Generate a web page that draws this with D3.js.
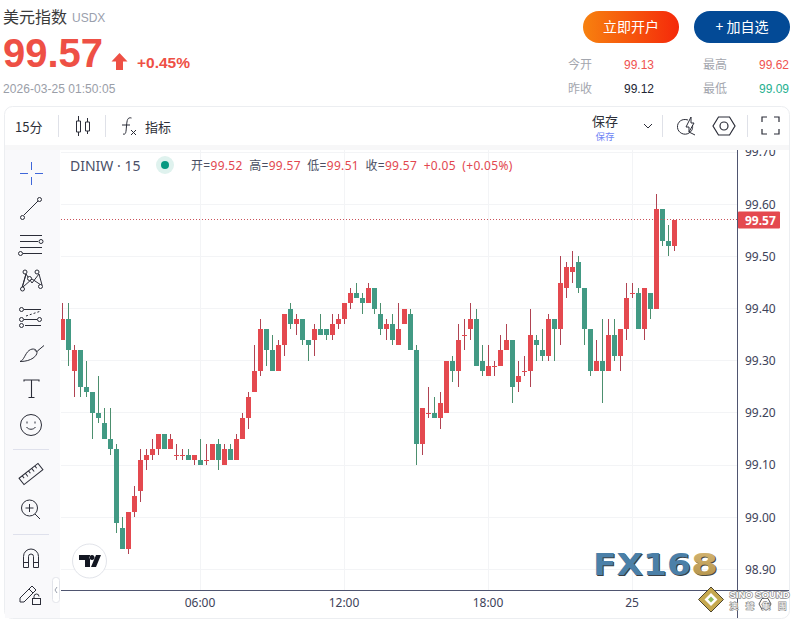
<!DOCTYPE html>
<html>
<head>
<meta charset="utf-8">
<script src="https://cdn.jsdelivr.net/npm/d3@7"></script>
<style>
html, body { margin: 0; padding: 0; background: #fff; }
svg { display: block; }
text { font-family: "Liberation Sans", "Noto Sans CJK SC", sans-serif; }
.cjk { font-family: "Noto Sans CJK SC", sans-serif; }
.axis text { font-family: "Noto Sans", sans-serif; font-size: 12px; fill: #3d4259; }
</style>
</head>
<body>
<div id="chart"></div>
<script>
// 15 minute candles
var opens = [99.34,99.38,99.28,99.32,99.25,99.24,99.20,99.18,99.15,99.13,98.98,98.94,99.01,99.05,99.11,99.12,99.13,99.16,99.13,99.12,99.12,99.12,99.11,99.11,99.11,99.11,99.14,99.10,99.13,99.11,99.15,99.19,99.24,99.28,99.36,99.32,99.28,99.33,99.40,99.37,99.38,99.34,99.34,99.36,99.36,99.35,99.37,99.38,99.41,99.43,99.42,99.41,99.44,99.39,99.36,99.37,99.33,99.37,99.39,99.32,99.14,99.20,99.20,99.19,99.20,99.30,99.28,99.35,99.36,99.38,99.30,99.27,99.29,99.29,99.32,99.34,99.26,99.28,99.28,99.34,99.32,99.31,99.38,99.36,99.44,99.47,99.49,99.44,99.36,99.28,99.30,99.28,99.35,99.31,99.36,99.43,99.43,99.36,99.43,99.40,99.59,99.53,99.52];
var closes = [99.38,99.32,99.32,99.25,99.24,99.20,99.19,99.15,99.13,98.99,98.94,99.01,99.04,99.11,99.12,99.13,99.16,99.13,99.15,99.12,99.12,99.11,99.12,99.10,99.11,99.14,99.11,99.13,99.11,99.15,99.19,99.23,99.28,99.36,99.32,99.28,99.33,99.39,99.37,99.38,99.34,99.33,99.36,99.35,99.35,99.37,99.38,99.41,99.43,99.42,99.41,99.44,99.40,99.36,99.37,99.34,99.36,99.40,99.32,99.14,99.21,99.20,99.19,99.22,99.30,99.28,99.34,99.35,99.38,99.29,99.28,99.29,99.29,99.32,99.34,99.25,99.27,99.28,99.35,99.33,99.31,99.38,99.36,99.45,99.48,99.48,99.44,99.36,99.28,99.30,99.28,99.35,99.31,99.36,99.42,99.43,99.36,99.44,99.40,99.59,99.53,99.52,99.57];
var highs = [99.41,99.41,99.33,99.32,99.30,99.24,99.27,99.21,99.21,99.14,99.00,99.01,99.06,99.13,99.13,99.15,99.16,99.16,99.16,99.14,99.13,99.13,99.12,99.15,99.14,99.14,99.15,99.14,99.14,99.16,99.20,99.24,99.33,99.38,99.36,99.35,99.34,99.39,99.41,99.39,99.38,99.34,99.37,99.39,99.36,99.39,99.39,99.41,99.44,99.45,99.43,99.45,99.44,99.41,99.38,99.39,99.41,99.40,99.40,99.33,99.21,99.25,99.23,99.24,99.30,99.31,99.37,99.38,99.41,99.40,99.33,99.33,99.30,99.35,99.37,99.34,99.30,99.31,99.40,99.35,99.36,99.39,99.38,99.50,99.49,99.51,99.50,99.44,99.36,99.34,99.38,99.38,99.38,99.36,99.45,99.45,99.44,99.44,99.43,99.62,99.59,99.56,99.57];
var lows = [99.34,99.29,99.23,99.23,99.23,99.15,99.18,99.15,99.12,98.97,98.94,98.93,99.00,99.03,99.09,99.11,99.12,99.13,99.13,99.11,99.11,99.11,99.10,99.10,99.10,99.11,99.09,99.10,99.11,99.11,99.15,99.17,99.24,99.27,99.29,99.28,99.28,99.31,99.36,99.35,99.33,99.30,99.31,99.35,99.34,99.34,99.36,99.37,99.40,99.42,99.39,99.41,99.39,99.35,99.34,99.33,99.33,99.37,99.32,99.10,99.12,99.19,99.19,99.17,99.20,99.26,99.25,99.32,99.34,99.29,99.27,99.27,99.27,99.29,99.32,99.22,99.24,99.27,99.25,99.30,99.30,99.30,99.30,99.33,99.42,99.45,99.43,99.33,99.27,99.28,99.22,99.28,99.30,99.28,99.34,99.42,99.36,99.34,99.38,99.40,99.52,99.50,99.51];

var priceTicks = [98.9,99.0,99.1,99.2,99.3,99.4,99.5,99.6,99.7];
var timeIndex = [23,47,71,95];
var timeLabels = ["06:00","12:00","18:00","25"];
var lastPrice = 99.57;

var legendTexts = ["开=","99.52","高=","99.57","低=","99.51","收=","99.57","+0.05","(+0.05%)"];
var statLabels = ["今开","昨收","最高","最低"];
var statValues = ["99.13","99.12","99.62","99.09"];
var statColors = ["#ef5350","#222533","#ef5350","#26b08f"];

var upColor = "#e4494f", downColor = "#429a84";
var upWick = "#b04352", downWick = "#4c8f6e";

var width = 797, height = 621;
var svg = d3.select("#chart").append("svg").attr("width", width).attr("height", height);

var defs = svg.append("defs");
var btnGrad = defs.append("linearGradient").attr("id", "btnGrad");
btnGrad.append("stop").attr("offset", "0%").attr("stop-color", "#f7810f");
btnGrad.append("stop").attr("offset", "100%").attr("stop-color", "#f5290a");
var goldGrad = defs.append("linearGradient").attr("id", "goldGrad").attr("x1", 0).attr("x2", 0).attr("y1", 0).attr("y2", 1);
goldGrad.append("stop").attr("offset", "0%").attr("stop-color", "#d8b978");
goldGrad.append("stop").attr("offset", "100%").attr("stop-color", "#b08f45");
defs.append("clipPath").attr("id", "plotClip").append("rect").attr("x", 61).attr("y", 150).attr("width", 676).attr("height", 440);

// page header
function label(x, y, str, size, color, opts) {
    opts = opts || {};
    return svg.append("text").attr("x", x).attr("y", y).text(str)
        .attr("font-size", size).attr("fill", color)
        .attr("font-weight", opts.weight || null)
        .attr("text-anchor", opts.anchor || null)
        .attr("class", opts.cjk ? "cjk" : null);
}
label(3, 23, "美元指数", 16, "#3a3a3a", {cjk: true});
label(72, 22, "USDX", 12, "#9aa0ad");
label(3, 67, "99.57", 40, "#ee5045", {weight: "bold"});
svg.append("path").attr("d", "M119.5 53 L127.5 61.5 L123 61.5 L123 70 L116 70 L116 61.5 L111.5 61.5 Z").attr("fill", "#ee5045");
label(137, 68, "+0.45%", 15.5, "#ee5045", {weight: "bold"});
label(3, 93, "2026-03-25 01:50:05", 12, "#9a9ea8").style("letter-spacing", "0.05px");

svg.append("rect").attr("x", 583).attr("y", 11).attr("width", 96).attr("height", 32).attr("rx", 16).attr("fill", "url(#btnGrad)");
svg.append("rect").attr("x", 694).attr("y", 11).attr("width", 96).attr("height", 32).attr("rx", 16).attr("fill", "#034a96");
label(631, 32, "立即开户", 14, "#fff", {anchor: "middle", cjk: true});
label(742, 32, "+ 加自选", 14, "#fff", {anchor: "middle", cjk: true});

[[568,623],[568,623],[703,758],[703,758]].forEach(function(p, i) {
    var yy = i % 2 == 0 ? 69 : 93;
    label(p[0], yy, statLabels[i], 12, "#a3a6ae", {cjk: true});
    label(p[1] + 1, yy, statValues[i], 12, statColors[i]);
});

// outer frame and toolbars
svg.append("rect").attr("x", 4.5).attr("y", 106.5).attr("width", 785).attr("height", 512).attr("rx", 8).attr("fill", "#fff").attr("stroke", "#eceef1");
svg.append("rect").attr("x", 5).attr("y", 150).attr("width", 55).attr("height", 468).attr("fill", "#f9f9fb");

label(15, 132, "15分", 13, "#2d2f38", {cjk: true});
label(145, 132, "指标", 13, "#2d2f38", {cjk: true});
label(605, 125.5, "保存", 13, "#2d2f38", {anchor: "middle", cjk: true});
label(605, 140, "保存", 9.5, "#6f86f5", {anchor: "middle", cjk: true});

var iconStroke = "#2b2d38";
function icon(d, color, w) {
    return svg.append("path").attr("d", d).attr("fill", "none").attr("stroke", color || iconStroke).attr("stroke-width", w || 1);
}
// toolbar separators
[[58.5,115,137],[105.5,115,137],[662.5,115,137],[747.5,115,137]].forEach(function(s) {
    svg.append("line").attr("x1", s[0]).attr("x2", s[0]).attr("y1", s[1]).attr("y2", s[2]).attr("stroke", "#dfe1e8");
});
icon("M76.500 121v11h4v-11zM78.500 116v5M78.500 132v4M85.500 122v9h4v-9zM87.500 118v4M87.500 131v3");
icon("M123 134c3 1 3-2 3.500-8s1-9 5-8M122 125h8M131 130l5 5M136 130l-5 5");
icon("M644 124l4 4 4-4");
icon("M688 120c-6-2-11 2-10.500 7.500s7 8.500 11.500 5.500 3.500-6 3.500-8M689 132l6 3M686 127l5-10 0 6 3 0-5 9 0-5z");
icon("M713 126l5.500-9h11l5.500 9-5.500 9h-11z", null, 1.2);
svg.append("circle").attr("cx", 724).attr("cy", 126).attr("r", 4).attr("fill", "none").attr("stroke", iconStroke).attr("stroke-width", 1.2);
icon("M762 122v-5h5M774 117h5v5M779 129v5h-5M767 134h-5v-5", null, 1.2);

// y = price, x = candle number
var y = d3.scaleLinear().domain([98.9, 99.7]).range([569.5, 152.1]);
var x = d3.scaleLinear().domain([0, 102]).range([62.5, 674.5]);
var py = function(p) { return Math.round(y(p)); };

var plot = svg.append("g");
var grid = plot.append("g").attr("stroke", "#f3f4f6").attr("shape-rendering", "crispEdges");
grid.selectAll(".h").data(priceTicks).enter().append("line").attr("class", "h")
    .attr("x1", 61).attr("x2", 737).attr("y1", function(d) { return Math.floor(y(d)) + 0.5; }).attr("y2", function(d) { return Math.floor(y(d)) + 0.5; });
grid.selectAll(".v").data(timeIndex).enter().append("line").attr("class", "v")
    .attr("y1", 150).attr("y2", 590).attr("x1", function(d) { return Math.floor(x(d)) + 0.5; }).attr("x2", function(d) { return Math.floor(x(d)) + 0.5; });

// candles
var candles = plot.append("g").attr("clip-path", "url(#plotClip)").attr("shape-rendering", "crispEdges")
    .selectAll("g").data(d3.range(opens.length)).enter().append("g");
candles.append("rect").attr("class", "wick")
    .attr("x", function(i) { return x(i) - 0.5; }).attr("width", 1)
    .attr("y", function(i) { return py(highs[i]); })
    .attr("height", function(i) { return py(lows[i]) - py(highs[i]); })
    .attr("fill", function(i) { return closes[i] >= opens[i] ? upWick : downWick; });
candles.append("rect").attr("class", "body")
    .attr("x", function(i) { return x(i) - 2.5; }).attr("width", 5)
    .attr("y", function(i) { return py(Math.max(opens[i], closes[i])); })
    .attr("height", function(i) { return Math.max(1, py(Math.min(opens[i], closes[i])) - py(Math.max(opens[i], closes[i]))); })
    .attr("fill", function(i) { return closes[i] >= opens[i] ? upColor : downColor; });

// last price line and label
plot.append("line").attr("x1", 61).attr("x2", 737).attr("y1", Math.floor(y(lastPrice)) + 0.5).attr("y2", Math.floor(y(lastPrice)) + 0.5)
    .attr("stroke", "#c9525a").attr("stroke-dasharray", "1 2");

// axes
var yAxis = d3.axisRight(y).tickValues(priceTicks).tickFormat(d3.format(".2f")).tickSize(0).tickPadding(8);
var xAxis = d3.axisBottom(x).tickValues(timeIndex).tickFormat(function(d, i) { return timeLabels[i]; }).tickSize(0).tickPadding(8);
svg.append("g").attr("class", "axis").attr("transform", "translate(737,0)").call(yAxis).select(".domain").remove();
svg.append("g").attr("class", "axis").attr("transform", "translate(-1,590)").call(xAxis).select(".domain").remove();
svg.append("line").attr("x1", 737.5).attr("x2", 737.5).attr("y1", 150).attr("y2", 618).attr("stroke", "#4f5570");
svg.append("line").attr("x1", 61).attr("x2", 789).attr("y1", 590.5).attr("y2", 590.5).attr("stroke", "#4f5570");

// strip under the toolbar sits over the top of the axis, it cuts the 99.70 label
svg.append("rect").attr("x", 5).attr("y", 145).attr("width", 784).attr("height", 5).attr("fill", "#f7f7f8");

svg.append("rect").attr("x", 738).attr("y", Math.round(y(lastPrice)) - 8.5).attr("width", 42).attr("height", 17).attr("rx", 1).attr("fill", upColor);
svg.append("text").attr("x", 745).attr("y", Math.round(y(lastPrice)) + 4.5).text(lastPrice.toFixed(2))
    .attr("fill", "#fff").attr("font-size", 12).attr("font-weight", "bold").style("font-family", "Noto Sans, sans-serif");

// legend row
label(70, 171, "DINIW · 15", 14, "#4a5068").style("font-family", "Noto Sans, sans-serif");
svg.append("circle").attr("cx", 165).attr("cy", 165).attr("r", 9).attr("fill", "#dff2ee");
svg.append("circle").attr("cx", 165).attr("cy", 165).attr("r", 4).attr("fill", "#089981");
var legend = svg.append("text").attr("x", 191).attr("y", 170).attr("font-size", 12).style("letter-spacing", "0.3px").style("font-family", "Noto Sans, Noto Sans CJK SC, sans-serif");
legend.selectAll("tspan").data(legendTexts).enter().append("tspan")
    .text(function(d) { return d; })
    .attr("dx", function(d, i) { return i > 0 && (i % 2 == 0 || i == 9) ? 6.5 : 0; })
    .attr("fill", function(d, i) { return i % 2 == 0 && i < 8 ? "#4a4f63" : "#e2474f"; });

// drawing tools on the left
icon("M20 173.500h8M35 173.500h8M31.500 162v8M31.500 177v8", "#3f67d9");
icon("M24 215l14-14", iconStroke);
[[22.500,217.500],[39.500,199.500],[41,241.500],[20.500,253.500]].forEach(function(c) {
    svg.append("circle").attr("cx", c[0]).attr("cy", c[1]).attr("r", 2).attr("fill", "none").attr("stroke", iconStroke);
});
icon("M20 235.500h22M20 241.500h18M20 247.500h22M23 253.500h19");
icon("M22 288l4-14 6 9 7-9 3 11M26 274l-4 14M32 279l-9 8M32 279l9 6");
[[25,272],[37,272],[29.500,278.500],[22.500,289],[40.500,286.500]].forEach(function(c) {
    svg.append("circle").attr("cx", c[0]).attr("cy", c[1]).attr("r", 2).attr("fill", "#f9f9fb").attr("stroke", iconStroke);
});
icon("M24 309.500h17M24 319.500h13M25 325.500h16");
icon("M26 316l15-5", iconStroke).attr("stroke-dasharray", "2 2");
[[21.500,309.500],[21.500,319.500],[21.500,325.500],[39.500,319.500]].forEach(function(c) {
    svg.append("circle").attr("cx", c[0]).attr("cy", c[1]).attr("r", 2).attr("fill", "#f9f9fb").attr("stroke", iconStroke);
});
icon("M20 361.500c4-1 5-8 9-11s8-1 8 2-5 9-17 9zM35 349.500c0 2 2 3 3 1l6-5");
icon("M24 381.500v-1.500h15v1.500M31.500 380v17M28.500 397.500h6", iconStroke, 1.1);
svg.append("circle").attr("cx", 31).attr("cy", 425).attr("r", 10.500).attr("fill", "none").attr("stroke", iconStroke);
icon("M26.500 427c2 3 7 3 9 0");
icon("M27 421.500v2M35 421.500v2");
svg.append("line").attr("x1", 13).attr("x2", 49).attr("y1", 449.500).attr("y2", 449.500).attr("stroke", "#dfe1ec");
svg.append("g").attr("transform", "rotate(-38 31 474)").append("path").attr("d", "M19 470h24v8h-24zM23 470v3M27 470v4M31 470v3M35 470v4M39 470v3").attr("fill", "none").attr("stroke", iconStroke);
svg.append("circle").attr("cx", 29.500).attr("cy", 508).attr("r", 8).attr("fill", "none").attr("stroke", iconStroke);
icon("M35 514l5 5M25.500 508h8M29.500 504v8");
svg.append("line").attr("x1", 13).attr("x2", 49).attr("y1", 534.500).attr("y2", 534.500).attr("stroke", "#dfe1ec");
icon("M23.500 567.500v-11a7.500 7.500 0 0 1 15 0v11h-5v-11a2.500 2.500 0 0 0-5 0v11zM23.500 562.500h5M33.500 562.500h5");
icon("M20 598l12-12 4 4-12 12h-4zM29 589l4 4");
svg.append("rect").attr("x", 32.500).attr("y", 598.500).attr("width", 8).attr("height", 6).attr("fill", "#f9f9fb").attr("stroke", iconStroke);
icon("M34 598.500v-2a2.500 2.500 0 0 1 5 0");

// collapse handle
svg.append("rect").attr("x", 52.500).attr("y", 577.500).attr("width", 7).attr("height", 25).attr("rx", 3).attr("fill", "#fff").attr("stroke", "#e2e4ea");
icon("M57 587l-2 3 2 3", "#9aa0ad");

// tradingview logo
svg.append("circle").attr("cx", 89.500).attr("cy", 561).attr("r", 17).attr("fill", "#fff").attr("stroke", "#e2e4ea");
svg.append("path").attr("d", "M79 555h11v12h-5v-7h-6zM92 555a2.500 2.500 0 1 0 .01 0M101 555l-5 12h-5l5-12z").attr("fill", "#131722");

// watermarks
function fxText(str, xx, len, fill, dx) {
    return svg.append("text").attr("x", xx + dx).attr("y", 575 + dx).text(str)
        .attr("font-size", 31).attr("font-weight", "bold").attr("textLength", len).attr("lengthAdjust", "spacingAndGlyphs")
        .attr("fill", fill).style("font-family", "DejaVu Sans, sans-serif");
}
fxText("FX16", 593, 98, "#3a3f45", 1);
fxText("FX16", 593, 98, "#4b80a8", 0);
fxText("8", 691, 27, "#4b4a40", 1);
fxText("8", 691, 27, "url(#goldGrad)", 0);

svg.append("path").attr("d", "M711 587l12.500 12.500-12.500 12.500-12.500-12.500z").attr("fill", "#c5a84f").attr("stroke", "#4d4530");
svg.append("path").attr("d", "M711 593l6.500 6.500-6.500 6.500-6.500-6.500z").attr("fill", "#fff");
svg.append("path").attr("d", "M711 596.500l3 3-3 3-3-3z").attr("fill", "#8dbb58");
svg.append("path").attr("d", "M759 604l3-5.500h6l3 5.500-3 5.500h-6z").attr("fill", "none").attr("stroke", "#555");
label(729.5, 598, "SINO SOUND", 9.5, "#fff", {weight: "bold"}).attr("stroke", "#8a8a8a").attr("stroke-width", 1.4).style("paint-order", "stroke");
svg.append("text").attr("x", 729.5).attr("y", 609).text("澳 聲 集 團").attr("font-size", 8.5).attr("fill", "#fff").attr("stroke", "#8a8a8a").attr("stroke-width", 1.2).style("paint-order", "stroke").attr("class", "cjk").attr("textLength", 57);
</script>
</body>
</html>
